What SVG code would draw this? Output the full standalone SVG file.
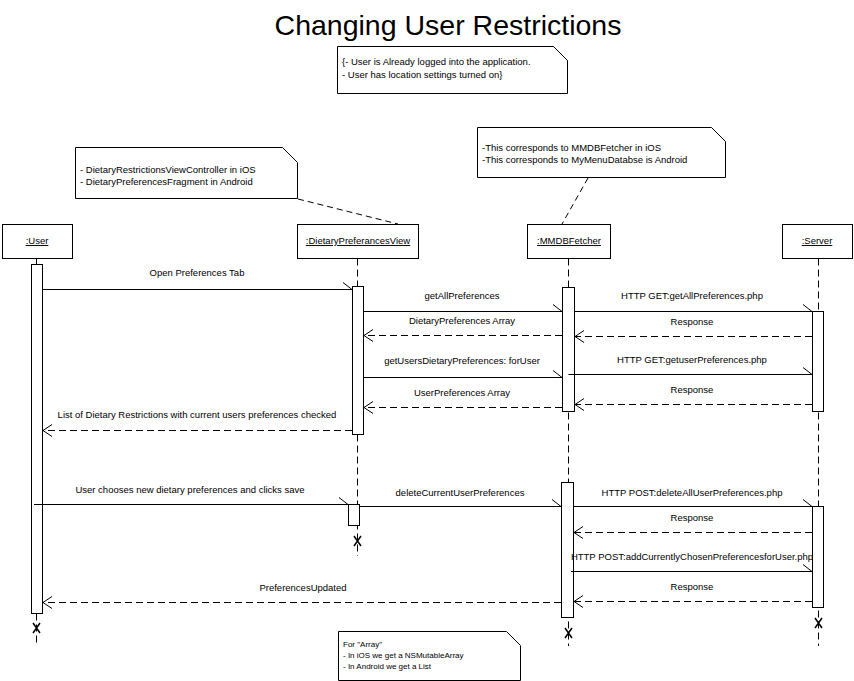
<svg xmlns="http://www.w3.org/2000/svg" width="854" height="681" viewBox="0 0 854 681">
<style>
  text { font-family: "Liberation Sans", Arial, sans-serif; fill: #000; }
  .title { font-size: 28.5px; text-anchor: middle; }
  .note { fill: #fff; stroke: #000; stroke-width: 1; }
  .ntxt { font-size: 9.5px; }
  .ntxt2 { font-size: 8px; }
  .head { fill: #fff; stroke: #000; stroke-width: 1; }
  .htxt { font-size: 9.5px; text-anchor: middle; text-decoration: underline; }
  .life { stroke: #000; stroke-width: 1; stroke-dasharray: 7,4; fill: none; }
  .act { fill: #fff; stroke: #000; stroke-width: 1; }
  .msg { stroke: #000; stroke-width: 1; fill: none; marker-end: url(#half); }
  .ret { stroke: #000; stroke-width: 1; fill: none; stroke-dasharray: 7,4; marker-end: url(#open); }
  .link { stroke: #000; stroke-width: 1; stroke-dasharray: 6,4; fill: none; }
  .mtxt { font-size: 9.5px; text-anchor: middle; }
  .x { stroke: #000; stroke-width: 1.5; fill: none; }
</style>
<defs>
  <marker id="half" markerUnits="userSpaceOnUse" viewBox="-11 -9 13 18" refX="0" refY="0" markerWidth="13" markerHeight="18" orient="auto">
    <path d="M-9,-7 L0,0" stroke="#000" stroke-width="1" fill="none"/>
  </marker>
  <marker id="open" markerUnits="userSpaceOnUse" viewBox="-11 -9 13 18" refX="0" refY="0" markerWidth="13" markerHeight="18" orient="auto">
    <path d="M-9,-6 L0,0 L-9,6" stroke="#000" stroke-width="1" fill="none"/>
  </marker>
</defs>
<rect width="854" height="681" fill="#fff"/>

<text class="title" x="448" y="35">Changing User Restrictions</text>

<g id="note-preconditions">
  <path class="note" d="M337.5,46.5 H553.5 L567.5,60.5 V93.5 H337.5 Z"/>
  <path class="note" d="M553.5,46.5 L567.5,60.5" fill="none"/>
  <text class="ntxt" x="342" y="65">{- User is Already logged into the application.</text>
  <text class="ntxt" x="342" y="78">- User has location settings turned on}</text>
</g>

<g id="note-view">
  <path class="note" d="M75.5,147.5 H282.5 L297.5,162.5 V198.5 H75.5 Z"/>
  <text class="ntxt" x="80" y="173">- DietaryRestrictionsViewController in iOS</text>
  <text class="ntxt" x="80" y="185">- DietaryPreferencesFragment in Android</text>
</g>

<g id="note-fetcher">
  <path class="note" d="M477.5,127.5 H711.5 L725.5,141.5 V177.5 H477.5 Z"/>
  <text class="ntxt" x="482" y="151">-This corresponds to MMDBFetcher in iOS</text>
  <text class="ntxt" x="482" y="163">-This corresponds to MyMenuDatabse is Android</text>
</g>

<g id="note-array">
  <path class="note" d="M338.5,631.5 H506.5 L520.5,645.5 V680.5 H338.5 Z"/>
  <text class="ntxt2" x="343" y="647">For "Array"</text>
  <text class="ntxt2" x="343" y="658">- In iOS we get a NSMutableArray</text>
  <text class="ntxt2" x="343" y="669">- In Android we get a List</text>
</g>

<g id="lifeline-user">
  <rect class="head" x="2.5" y="224.5" width="70" height="34"/>
  <text class="htxt" x="37" y="244">:User</text>
  <line x1="36.5" y1="258.5" x2="36.5" y2="264.5" stroke="#000"/>
  <line class="life" x1="36.5" y1="613.5" x2="36.5" y2="646"/>
  <rect class="act" x="31.5" y="264.5" width="11" height="349"/>
  <path class="x" d="M33,623 L40,633 M40,623 L33,633"/>
</g>

<g id="lifeline-view">
  <rect class="head" x="297.5" y="224.5" width="121" height="34"/>
  <text class="htxt" x="358" y="244">:DietaryPreferancesView</text>
  <line class="life" x1="357.5" y1="258.5" x2="357.5" y2="556"/>
  <rect class="act" x="352.5" y="286.5" width="11" height="148"/>
  <rect class="act" x="348.5" y="504.5" width="11" height="21"/>
  <path class="x" d="M354,536 L361,546 M361,536 L354,546"/>
</g>

<g id="lifeline-fetcher">
  <rect class="head" x="527.5" y="224.5" width="83" height="34"/>
  <text class="htxt" x="569" y="244">:MMDBFetcher</text>
  <line class="life" x1="568.5" y1="258.5" x2="568.5" y2="646"/>
  <rect class="act" x="562.5" y="287.5" width="12" height="124"/>
  <rect class="act" x="561.5" y="482.5" width="12" height="135"/>
  <path class="x" d="M565,628 L572,638 M572,628 L565,638"/>
</g>

<g id="lifeline-server">
  <rect class="head" x="782.5" y="224.5" width="70" height="34"/>
  <text class="htxt" x="817" y="244">:Server</text>
  <line class="life" x1="818.5" y1="258.5" x2="818.5" y2="646"/>
  <rect class="act" x="812.5" y="311.5" width="11" height="100"/>
  <rect class="act" x="812.5" y="506.5" width="11" height="101"/>
  <path class="x" d="M815,618 L822,628 M822,618 L815,628"/>
</g>

<g id="connectors">
  <line class="link" x1="298" y1="199" x2="398" y2="224"/>
  <line class="link" x1="588" y1="178" x2="562" y2="224"/>

  <line class="msg" x1="42.5" y1="289.5" x2="352" y2="289.5"/>
  <text class="mtxt" x="197" y="276">Open Preferences Tab</text>

  <line class="msg" x1="363.5" y1="311.5" x2="562" y2="311.5"/>
  <text class="mtxt" x="462" y="299">getAllPreferences</text>

  <line class="ret" x1="562" y1="335.5" x2="364" y2="335.5"/>
  <text class="mtxt" x="462" y="324">DietaryPreferences Array</text>

  <line class="msg" x1="363.5" y1="377.5" x2="562" y2="377.5"/>
  <text class="mtxt" x="462" y="364">getUsersDietaryPreferences: forUser</text>

  <line class="ret" x1="562" y1="407.5" x2="364" y2="407.5"/>
  <text class="mtxt" x="462" y="396">UserPreferences Array</text>

  <line class="msg" x1="574.5" y1="311.5" x2="812" y2="311.5"/>
  <text class="mtxt" x="692" y="299">HTTP GET:getAllPreferences.php</text>

  <line class="ret" x1="812" y1="336.5" x2="575" y2="336.5"/>
  <text class="mtxt" x="692" y="325">Response</text>

  <line class="msg" x1="568.5" y1="374.5" x2="812" y2="374.5"/>
  <text class="mtxt" x="692" y="363">HTTP GET:getuserPreferences.php</text>

  <line class="ret" x1="812" y1="404.5" x2="575" y2="404.5"/>
  <text class="mtxt" x="692" y="393">Response</text>

  <line class="ret" x1="352" y1="430.5" x2="43" y2="430.5"/>
  <text class="mtxt" x="197" y="418">List of Dietary Restrictions with current users preferences checked</text>

  <line class="msg" x1="34" y1="504.5" x2="348" y2="504.5"/>
  <text class="mtxt" x="190" y="493">User chooses new dietary preferences and clicks save</text>

  <line class="msg" x1="359.5" y1="506.5" x2="561" y2="506.5"/>
  <text class="mtxt" x="460" y="496">deleteCurrentUserPreferences</text>

  <line class="msg" x1="573.5" y1="506.5" x2="812" y2="506.5"/>
  <text class="mtxt" x="692" y="496">HTTP POST:deleteAllUserPreferences.php</text>

  <line class="ret" x1="812" y1="532.5" x2="574" y2="532.5"/>
  <text class="mtxt" x="692" y="521">Response</text>

  <line class="msg" x1="571" y1="571.5" x2="812" y2="571.5"/>
  <text class="mtxt" x="692" y="560">HTTP POST:addCurrentlyChosenPreferencesforUser.php</text>

  <line class="ret" x1="812" y1="601.5" x2="574" y2="601.5"/>
  <text class="mtxt" x="692" y="590">Response</text>

  <line class="ret" x1="561" y1="602.5" x2="43" y2="602.5"/>
  <text class="mtxt" x="303" y="591">PreferencesUpdated</text>
</g>
</svg>
